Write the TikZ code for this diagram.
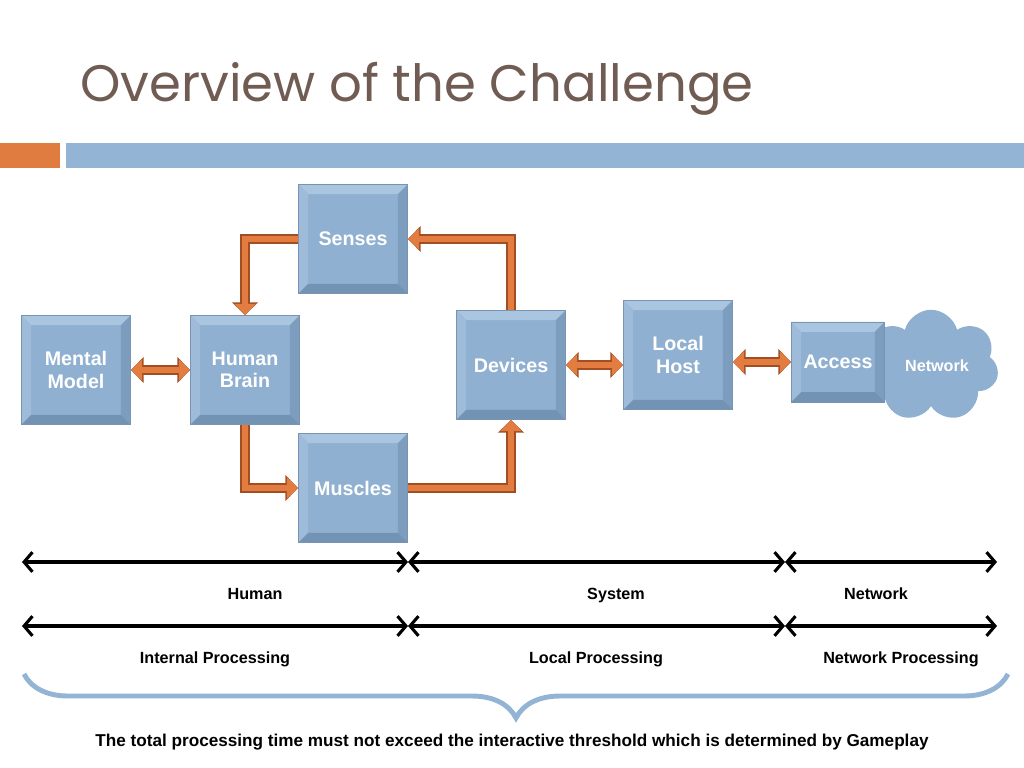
\documentclass[tikz,border=0pt]{standalone}
\usepackage{fontspec}
\setmainfont{Liberation Sans}
\newfontfamily\titlefont{Poppins}
\usetikzlibrary{arrows.meta,shapes.symbols,decorations.pathreplacing}
\definecolor{boxblue}{RGB}{143,176,208}
\definecolor{boxtop}{RGB}{170,197,224}
\definecolor{boxleft}{RGB}{158,188,217}
\definecolor{boxright}{RGB}{124,157,190}
\definecolor{boxbot}{RGB}{114,147,180}
\definecolor{boxedge}{RGB}{120,148,176}
\definecolor{orangeA}{RGB}{226,124,64}
\definecolor{orangeB}{RGB}{160,78,34}
\definecolor{hdblue}{RGB}{147,180,212}
\definecolor{hdorange}{RGB}{224,124,64}
\definecolor{titlecol}{RGB}{112,92,83}

\tikzset{
  blk/.style={fill=boxblue, draw=boxedge, line width=0.5pt,
    minimum width=2.73cm, minimum height=2.73cm, align=center, text=white,
    font=\bfseries\fontsize{14}{16}\selectfont,
    path picture={
      \fill[boxtop] (path picture bounding box.north west) -- (path picture bounding box.north east)
        -- ++(-7pt,-7pt) -- ([shift={(7pt,-7pt)}]path picture bounding box.north west) -- cycle;
      \fill[boxleft] (path picture bounding box.north west) -- (path picture bounding box.south west)
        -- ++(7pt,7pt) -- ([shift={(7pt,-7pt)}]path picture bounding box.north west) -- cycle;
      \fill[boxright] (path picture bounding box.north east) -- (path picture bounding box.south east)
        -- ++(-7pt,7pt) -- ([shift={(-7pt,-7pt)}]path picture bounding box.north east) -- cycle;
      \fill[boxbot] (path picture bounding box.south west) -- (path picture bounding box.south east)
        -- ++(-7pt,7pt) -- ([shift={(7pt,7pt)}]path picture bounding box.south west) -- cycle;
    }},
  oarr/.style={draw=orangeA, line width=4.5pt, -{Triangle[length=8pt,width=15pt]},
    preaction={draw=orangeB, line width=6.5pt, -{Triangle[length=9pt,width=18pt]}}},
  odbl/.style={draw=orangeA, line width=4.5pt, {Triangle[length=8pt,width=15pt]}-{Triangle[length=8pt,width=15pt]},
    preaction={draw=orangeB, line width=6.5pt, {Triangle[length=9pt,width=18pt]}-{Triangle[length=9pt,width=18pt]}}},
  tline/.style={line width=2.2pt, {Straight Barb[length=6pt,width=14pt]}-{Straight Barb[length=6pt,width=14pt]}},
  lbl/.style={anchor=base, font=\bfseries\fontsize{11.5}{13}\selectfont}
}

\begin{document}
\begin{tikzpicture}[x=0.025cm,y=-0.025cm]
  \useasboundingbox (0,0) rectangle (1024,768);
  % title and header bar
  \node[anchor=base west, inner sep=0pt, text=titlecol, font=\titlefont\fontsize{36.5}{40}\selectfont] (title) at (80,102) {Overview of the Challenge};
  \fill[hdorange] (0,143) rectangle (60,168);
  \fill[hdblue] (66,143) rectangle (1024,168);

  % boxes
  \node[blk] (senses) at (353,239) {Senses};
  \node[blk] (mental) at (76,370) {Mental\\Model};
  \node[blk] (brain) at (245,370) {Human\\Brain};
  \node[blk] (muscles) at (353,488) {Muscles};
  \node[blk] (devices) at (511,365) {Devices};
  \node[blk] (host) at (678,355) {Local\\Host};
  \node[cloud, cloud puffs=7, aspect=1.5, fill=boxblue, minimum width=3.0cm, minimum height=2.15cm,
    text=white, font=\bfseries\fontsize{11.5}{13}\selectfont] (net) at (931,366) {\hspace*{0.3cm}Network};
  \node[blk, minimum width=2.33cm, minimum height=2cm] (access) at (838,362) {Access};

  % orange connectors
  \draw[oarr] (senses.west) -| (brain.north);
  \draw[oarr] (devices.north) |- (senses.east);
  \draw[oarr] (brain.south) |- (muscles.west);
  \draw[oarr] (muscles.east) -| (devices.south);
  \draw[odbl] (mental.east) -- (brain.west);
  \draw[odbl] (devices.east) -- (devices.east -| host.west);
  \draw[odbl] (access.west -| host.east) -- (access.west);

  % time lines
  \coordinate (h0) at (22,562);
  \coordinate (h1) at (408,562);
  \coordinate (h2) at (785,562);
  \coordinate (h3) at (997,562);
  \coordinate (p0) at (22,626);
  \coordinate (p1) at (408,626);
  \coordinate (p2) at (785,626);
  \coordinate (p3) at (997,626);
  \draw[tline] (h0) -- (h1);
  \draw[tline] (h1) -- (h2);
  \draw[tline] (h2) -- (h3);
  \draw[tline] (p0) -- (p1);
  \draw[tline] (p1) -- (p2);
  \draw[tline] (p2) -- (p3);
  \node[lbl] (lhuman) at (255,599) {Human};
  \node[lbl] (lsystem) at (616,599) {System};
  \node[lbl] (lnet) at (876,599) {Network};
  \node[lbl] (linternal) at (215,663) {Internal Processing};
  \node[lbl] (llocal) at (596,663) {Local Processing};
  \node[lbl] (lnetproc) at (901,663) {Network Processing};

  % brace
  \coordinate (b0) at (24,674);
  \coordinate (b1) at (1008,674);
  \draw[hdblue, line width=3.5pt, decorate, decoration={brace, mirror, amplitude=1.1cm}] (b0) -- (b1);
  \node[lbl, font=\bfseries\fontsize{12.2}{14}\selectfont] (total) at (512,746) {The total processing time must not exceed the interactive threshold which is determined by Gameplay};
\end{tikzpicture}
\end{document}
